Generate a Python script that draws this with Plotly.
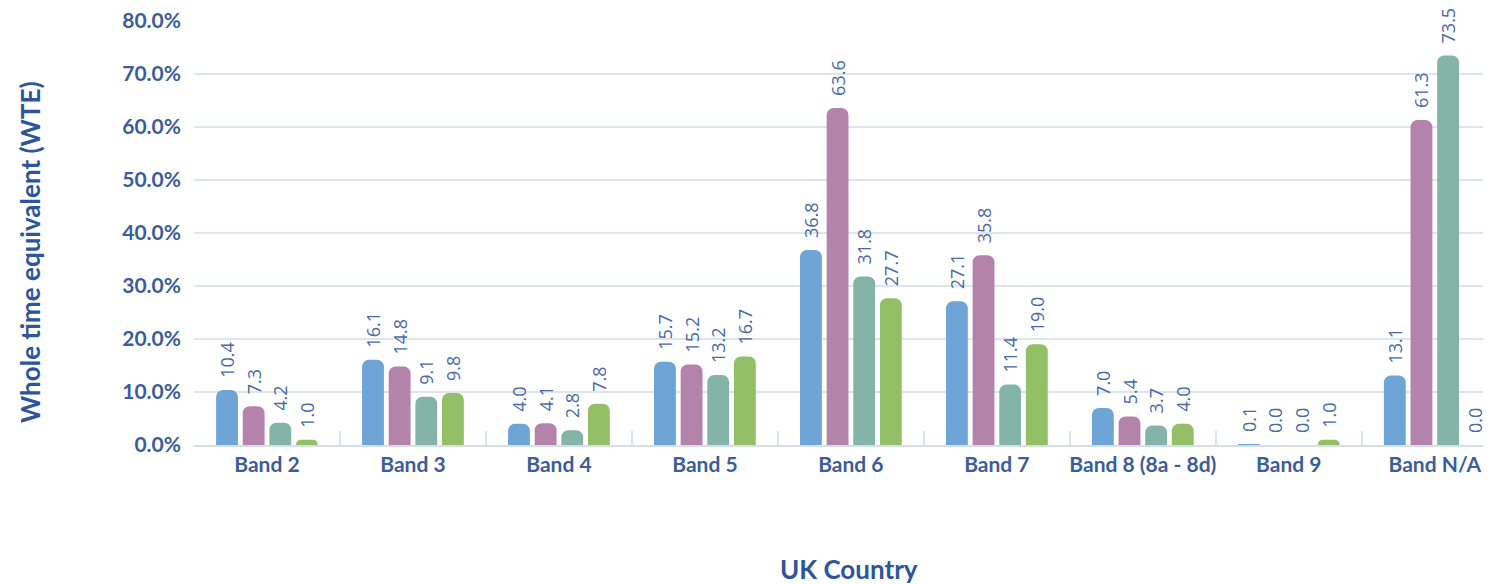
import plotly.graph_objects as go

categories = ["Band 2", "Band 3", "Band 4", "Band 5", "Band 6", "Band 7",
              "Band 8 (8a - 8d)", "Band 9", "Band N/A"]
series_names = ["Series 1", "Series 2", "Series 3", "Series 4"]
s1 = [10.4, 16.1, 4.0, 15.7, 36.8, 27.1, 7.0, 0.1, 13.1]
s2 = [7.3, 14.8, 4.1, 15.2, 63.6, 35.8, 5.4, 0.0, 61.3]
s3 = [4.2, 9.1, 2.8, 13.2, 31.8, 11.4, 3.7, 0.0, 73.5]
s4 = [1.0, 9.8, 7.8, 16.7, 27.7, 19.0, 4.0, 1.0, 0.0]
colors = ["#6fa4d7", "#b383ab", "#84b3a8", "#93bf66"]

fig = go.Figure()
for name, vals, col in zip(series_names, [s1, s2, s3, s4], colors):
    fig.add_trace(go.Bar(
        x=categories, y=vals, name=name,
        marker=dict(color=col, cornerradius=7, line=dict(width=0)),
        text=[f"\u2002{v:.1f}" for v in vals],
        textposition="outside", textangle=-90,
        textfont=dict(family="Open Sans", size=18, color="#4a69a6"),
        cliponaxis=False,
    ))

fig.update_layout(
    width=1491, height=584,
    margin=dict(l=186, r=0, t=13, b=147),
    paper_bgcolor="white", plot_bgcolor="white",
    barmode="group", bargap=0.27, bargroupgap=0.18,
    showlegend=False,
    uniformtext=dict(mode="show", minsize=18),
    font=dict(family="Lato"),
)
fig.update_xaxes(
    range=[-0.5, 8.44], automargin=False, tickangle=0, ticklabeloverflow="allow",
    tickfont=dict(family="Lato", size=21, color="#3b5d9a", weight="bold"),
    showline=True, linecolor="#d6deea", linewidth=2,
    ticks="inside", tickson="boundaries", ticklen=14, tickcolor="#dde3ec", tickwidth=2,
    showgrid=False,
)
fig.update_yaxes(
    range=[0, 80], dtick=10, tickformat=".1f", ticksuffix="%", automargin=False,
    ticklabeloverflow="allow",
    tickfont=dict(family="Lato", size=21, color="#3b5d9a", weight="bold"),
    showgrid=True, gridcolor="#dfe5ee", gridwidth=2,
    zeroline=False, ticks="", ticklabelstandoff=12,
)
fig.add_annotation(
    text="UK Country", xref="paper", yref="paper", x=0.502, y=-0.2925,
    xanchor="center", yanchor="middle", showarrow=False,
    font=dict(family="Lato", size=26, color="#2e5599", weight="bold"),
)
fig.add_annotation(
    text="Whole time equivalent (WTE)", xref="paper", yref="paper", x=-0.1257, y=0.455,
    xanchor="center", yanchor="middle", showarrow=False, textangle=-90,
    font=dict(family="Lato", size=26, color="#2e5599", weight="bold"),
)
fig.write_html("out.html")
